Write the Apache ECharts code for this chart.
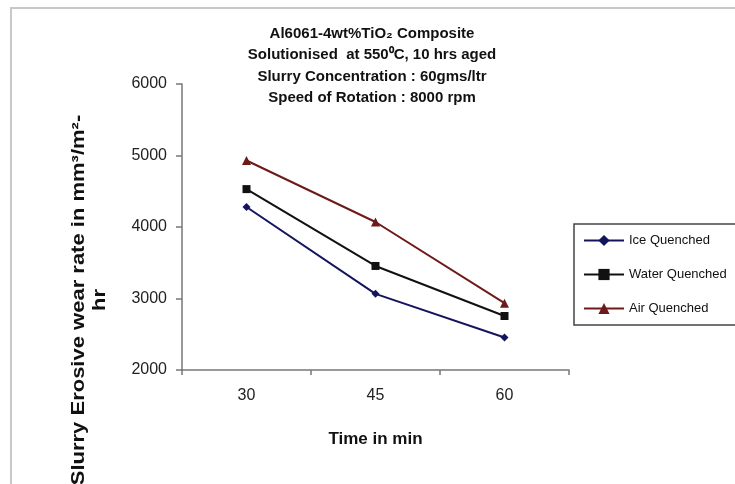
<!DOCTYPE html>
<html>
<head>
<meta charset="utf-8">
<script src="https://cdn.jsdelivr.net/npm/echarts@6/dist/echarts.min.js"></script>
<style>html,body{margin:0;padding:0;background:#fff;}#c{width:735px;height:484px;}</style>
</head>
<body>
<div id="c"></div>
<script>
const categories = ['30', '45', '60'];
const iceQuenched = [4280, 3065, 2455];
const waterQuenched = [4530, 3455, 2755];
const airQuenched = [4930, 4070, 2935];
const seriesNames = ['Ice Quenched', 'Water Quenched', 'Air Quenched'];
const yTicks = { min: 2000, max: 6000, interval: 1000 };
const titleLines = ['Al6061-4wt%TiO\u2082 Composite', 'Solutionised  at 550\u2070C, 10 hrs aged', 'Slurry Concentration : 60gms/ltr', 'Speed of Rotation : 8000 rpm'];
const yName = ['Slurry Erosive wear rate in mm\u00b3/m\u00b2-', 'hr'];
const xName = 'Time in min';

const sans = "'Liberation Sans', Arial, sans-serif";

const chart = echarts.init(document.getElementById('c'), null, { renderer: 'canvas' });
chart.setOption({
  animation: false,
  backgroundColor: '#fff',
  title: {
    text: titleLines.join('\n'),
    left: 367, top: 18, textAlign: 'center',
    textStyle: { fontFamily: sans, fontSize: 15, fontWeight: 'bold', color: '#111', lineHeight: 21.5 }
  },
  legend: {
    orient: 'vertical', left: 574, top: 224,
    padding: [10, 40, 10, 9], itemGap: 21, itemWidth: 40, itemHeight: 14,
    borderColor: '#444', borderWidth: 1.5, backgroundColor: '#fff',
    textStyle: { fontFamily: sans, fontSize: 13, color: '#111' },
    data: seriesNames
  },
  grid: { left: 182, right: 166, top: 84, bottom: 114, containLabel: false },
  xAxis: {
    type: 'category', data: categories, boundaryGap: true,
    axisLine: { lineStyle: { color: '#777', width: 1.5 } },
    axisTick: { show: true, length: 5, lineStyle: { color: '#777', width: 1.5 } },
    axisLabel: { fontFamily: sans, fontSize: 16, color: '#222', margin: 18 },
    name: xName, nameLocation: 'middle', nameGap: 61,
    nameTextStyle: { fontFamily: sans, fontSize: 17, fontWeight: 'bold', color: '#111' }
  },
  yAxis: {
    type: 'value', min: yTicks.min, max: yTicks.max, interval: yTicks.interval,
    splitLine: { show: false },
    axisLine: { show: true, lineStyle: { color: '#777', width: 1.5 } },
    axisTick: { show: true, length: 6, lineStyle: { color: '#777', width: 1.5 } },
    axisLabel: { fontFamily: sans, fontSize: 16, color: '#222', margin: 15, formatter: v => String(v) }
  },
  graphic: [
    { type: 'rect', shape: { x: 11, y: 8, width: 900, height: 700 }, style: { fill: 'none', stroke: '#c8c8c8', lineWidth: 2 }, silent: true, z: -1 },
    { type: 'text', x: 79, y: 300, rotation: Math.PI / 2, scaleY: 0.8,
      style: { text: yName[0], fontFamily: sans, fontSize: 22, fontWeight: 'bold', fill: '#111', align: 'center', verticalAlign: 'middle' } },
    { type: 'text', x: 100, y: 300, rotation: Math.PI / 2, scaleY: 0.8,
      style: { text: yName[1], fontFamily: sans, fontSize: 22, fontWeight: 'bold', fill: '#111', align: 'center', verticalAlign: 'middle' } }
  ],
  series: [
    { name: seriesNames[0], type: 'line', data: iceQuenched, symbol: 'diamond', symbolSize: 8,
      lineStyle: { color: '#14145e', width: 2 }, itemStyle: { color: '#14145e' } },
    { name: seriesNames[1], type: 'line', data: waterQuenched, symbol: 'rect', symbolSize: 8,
      lineStyle: { color: '#111', width: 2 }, itemStyle: { color: '#111' } },
    { name: seriesNames[2], type: 'line', data: airQuenched, symbol: 'triangle', symbolSize: 9,
      lineStyle: { color: '#6e1a1a', width: 2 }, itemStyle: { color: '#6e1a1a' } }
  ]
});
</script>
</body>
</html>
